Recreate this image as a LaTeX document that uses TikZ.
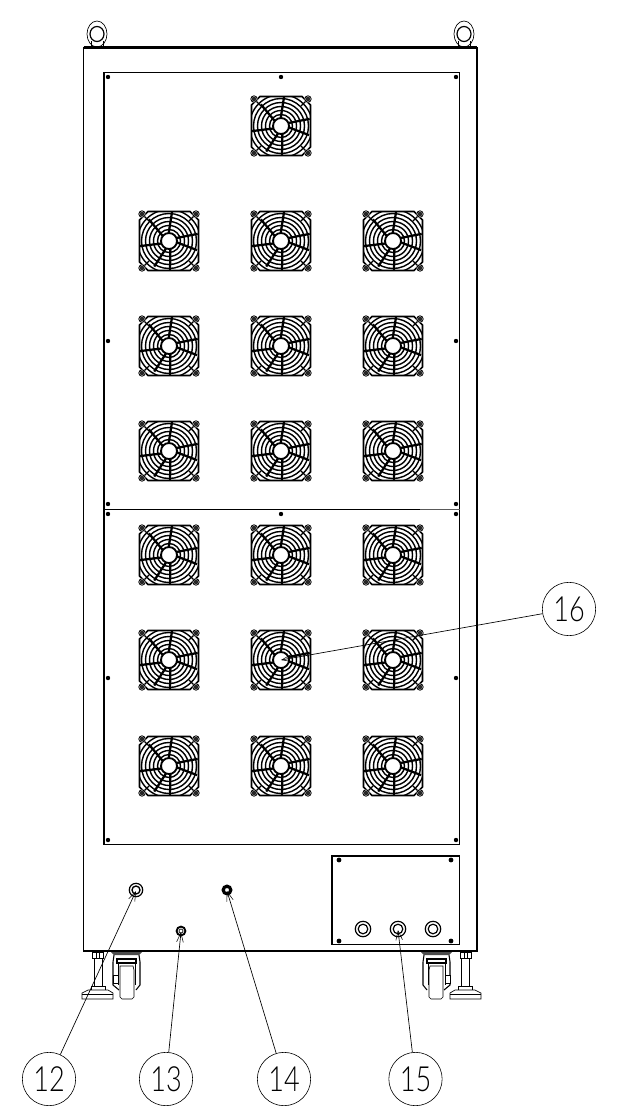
\documentclass[tikz,border=0pt]{standalone}
\usepackage{fontspec}
\setmainfont{Liberation Sans}
\newfontfamily\balloonfont[FakeStretch=0.78]{Lato Light}
\usetikzlibrary{arrows.meta}
\tikzset{
  x=0.75pt,y=-0.75pt,
  body/.style={draw=black,line width=1.2pt,fill=white},
  thin part/.style={draw=black,line width=0.5pt},
  balloon/.style={circle,draw=black,line width=0.45pt,minimum size=40pt,inner sep=0pt,font=\balloonfont\fontsize{26}{26}\selectfont},
  leader/.style={draw=black,line width=0.5pt,-{Straight Barb[length=7pt,width=5pt,line width=0.4pt]}},
  bolt/.style={fill=black,draw=none}
}
\newcommand{\fanunit}[2]{%
\begin{scope}[shift={(#1,#2)}]
  \begin{scope}
    \clip (-29,-21)--(-21,-29)--(21,-29)--(29,-21)--(29,21)--(21,29)--(-21,29)--(-29,21)--cycle;
    \foreach \r in {11.5,15.5,19.5,23.5,27.5,31.5}{\draw[line width=1.05pt] (0,0) circle (\r);}
  \end{scope}
  \draw[line width=1.2pt] (-29.5,-21)--(-21,-29.5)--(21,-29.5)--(29.5,-21)--(29.5,21)--(21,29.5)--(-21,29.5)--(-29.5,21)--cycle;
  \draw[line width=1.4pt] (0,0) circle (8);
  \foreach \a in {-22,80,112,162,-141,-92,10}{\draw[line width=1.7pt] (\a:8)--(\a+8:29.5);}
  \foreach \sx/\sy in {-1/-1,1/-1,-1/1,1/1}{
    \draw[line width=0.9pt] (\sx*27,\sy*27)--(\sx*20,\sy*20);
    \fill[white] (\sx*27,\sy*27) circle (3.6);
    \draw[line width=0.6pt] (\sx*27,\sy*27) circle (3.2);
    \fill[black!85] (\sx*27,\sy*27) circle (2.3);
  }
\end{scope}}
\newcommand{\baseparts}{%
  \draw[thin part,fill=white] (92,952) rectangle (103,958);
  \draw[thin part,fill=white] (94,958) rectangle (102,986);
  \draw[thin part] (96,952)--(96,958) (99,952)--(99,958);
  \draw[thin part,fill=white] (91,986) rectangle (105,990);
  \draw[thin part,fill=white] (82,993)--(88,990)--(108,990)--(113,993)--(113,999)--(82,999)--cycle;
  \draw[thin part] (82,994)--(113,994);
  \fill[black!70] (111,952)--(142,952)--(139,955)--(114,955)--cycle;
  \draw[line width=0.8pt] (114,955)--(113,962)--(113,985)--(119,990);
  \draw[line width=0.8pt] (139,955)--(140,962)--(140,985)--(136,990);
  \draw[line width=1.6pt] (117,959) rectangle (136,963);
  \draw[thin part] (118,963)--(118,985) (135,963)--(135,985);
  \draw[thin part,fill=white] (120,966) -- (133,966) -- (134,970) -- (134,997) -- (132,999) -- (122,999) -- (120,997) -- cycle;
  \draw[thin part,fill=white] (113,975) rectangle (118,983);
}
\begin{document}
\begin{tikzpicture}
\useasboundingbox (0,0) rectangle (620,1113);
\fill[white] (0,0) rectangle (620,1113);
% lifting eyes
\foreach \x/\n in {97/a,464/b}{
  \draw[thin part] (\x-6,47)--(\x-6,41) (\x+6,47)--(\x+6,41);
  \draw[line width=0.5pt] (\x,34) ellipse (10 and 13);
  \draw[line width=0.9pt] (\x,34) ellipse (7 and 7.5);
}
% casters and feet
\baseparts
\begin{scope}[xscale=-1,xshift=-422.25pt]\baseparts\end{scope}
% cabinet
\draw[body] (83.5,47.5) rectangle (477,951);
\draw[line width=1.6pt] (83.5,47.5)--(477,47.5);
% panels
\draw[line width=1.2pt] (104,72.5) rectangle (459.5,844.5);
\draw[line width=1.2pt] (104,509.5)--(420,509.5);
\draw[line width=0.9pt,black!65] (420,509.5)--(459.5,509.5);
\foreach \x/\y in {108/77,281/77,456/77,108/341,456/341,108/504,456/504,108/514,281/514,456/514,108/678,456/678,108/840,456/840}{
  \fill[bolt] (\x,\y) circle (2.2);
}
% fans
\fanunit{281}{126}
\foreach \y in {241,346,451,555,660,766}{
  \foreach \x in {169,281,393}{\fanunit{\x}{\y}}
}
% lower parts
\draw[line width=1pt] (332,856) rectangle (459.5,944.5);
\foreach \x/\y in {339/860,451/860,339/941,451/941}{\fill[bolt] (\x,\y) circle (2.4);}
\foreach \x in {363,398,433}{
  \draw[line width=0.9pt] (\x,929) circle (7.7);
  \draw[line width=0.9pt] (\x,929) circle (4.8);
}
\draw[line width=0.9pt] (136,890) circle (6.7);
\draw[line width=1pt] (136,890) circle (4);
\draw[line width=1.4pt] (181,931) circle (4.4);
\draw[line width=0.5pt] (181,931) circle (2);
\draw[line width=2.4pt] (227,890) circle (3.8);
% leaders
\coordinate (t12) at (136,891);
\coordinate (t13) at (181,932);
\coordinate (t14) at (227,891);
\coordinate (t15) at (398,930);
\coordinate (t16) at (281,660);
\node[balloon] (b12) at (49,1079) {12};
\node[balloon] (b13) at (166,1079) {13};
\node[balloon] (b14) at (284,1079) {14};
\node[balloon] (b15) at (415.5,1079) {15};
\node[balloon] (b16) at (569,609) {16};
\draw[leader] (b12)--(t12);
\draw[leader] (b13)--(t13);
\draw[leader] (b14)--(t14);
\draw[leader] (b15)--(t15);
\draw[leader] (b16)--(t16);
\end{tikzpicture}
\end{document}
